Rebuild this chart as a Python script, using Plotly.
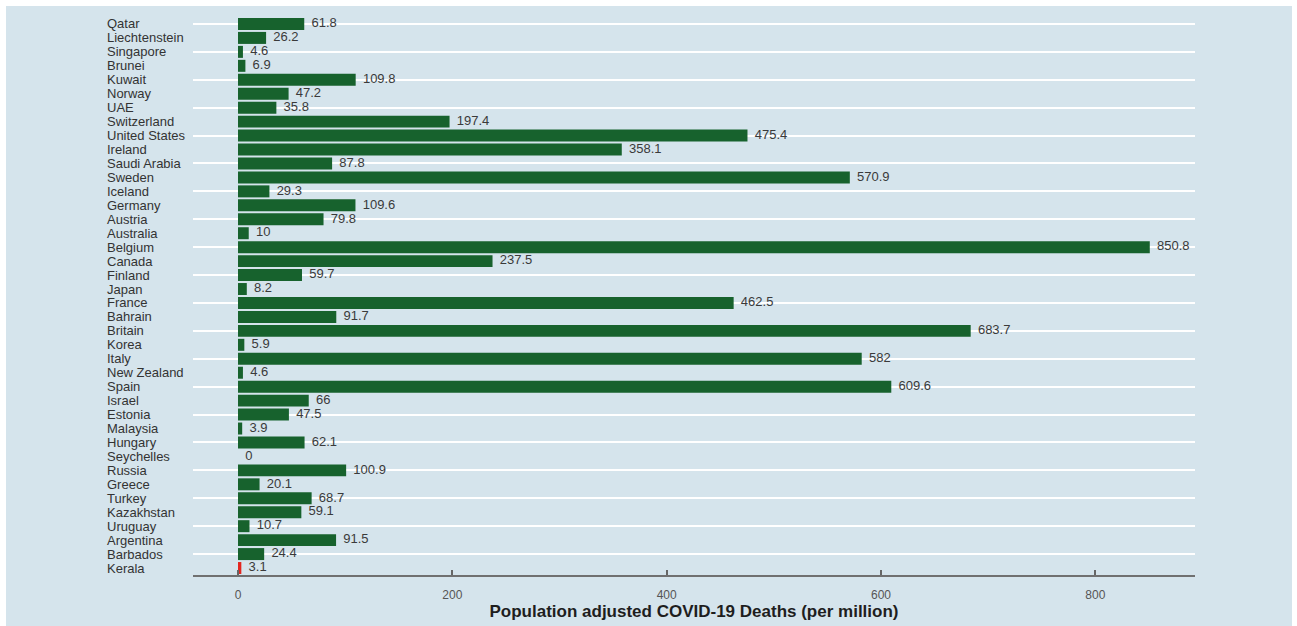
import plotly.graph_objects as go

countries = ["Qatar", "Liechtenstein", "Singapore", "Brunei", "Kuwait", "Norway", "UAE",
             "Switzerland", "United States", "Ireland", "Saudi Arabia", "Sweden", "Iceland",
             "Germany", "Austria", "Australia", "Belgium", "Canada", "Finland", "Japan",
             "France", "Bahrain", "Britain", "Korea", "Italy", "New Zealand", "Spain",
             "Israel", "Estonia", "Malaysia", "Hungary", "Seychelles", "Russia", "Greece",
             "Turkey", "Kazakhstan", "Uruguay", "Argentina", "Barbados", "Kerala"]
deaths = [61.8, 26.2, 4.6, 6.9, 109.8, 47.2, 35.8,
          197.4, 475.4, 358.1, 87.8, 570.9, 29.3,
          109.6, 79.8, 10, 850.8, 237.5, 59.7, 8.2,
          462.5, 91.7, 683.7, 5.9, 582, 4.6, 609.6,
          66, 47.5, 3.9, 62.1, 0, 100.9, 20.1,
          68.7, 59.1, 10.7, 91.5, 24.4, 3.1]
highlight = "Kerala"
x_ticks = [0, 200, 400, 600, 800]
x_title = "Population adjusted COVID-19 Deaths (per million)"

W, H = 1297, 626
L, R, T, B = 193, 1195, 17, 580
BG = "#d5e4ec"
GREEN = "#17622d"
RED = "#e3261f"
FONT = "Liberation Sans, Arial, sans-serif"

colors = [RED if c == highlight else GREEN for c in countries]

fig = go.Figure()
fig.add_trace(go.Bar(
    x=deaths, y=countries, orientation="h",
    marker=dict(color=colors, line=dict(width=0)),
    width=0.86, hoverinfo="x+y", showlegend=False,
))
fig.add_trace(go.Scatter(
    x=deaths, y=countries, mode="text",
    text=["  " + f"{v:g}" for v in deaths],
    textposition="middle right",
    textfont=dict(family=FONT, size=13, color="#3a3a3a"),
    showlegend=False, hoverinfo="skip", cliponaxis=False,
))

pw = R - L
ph = B - T
def px_x(p):
    return (p - L) / pw
def px_y(p):
    return (B - p) / ph

annotations = [
    dict(x=px_x(105), xref="paper", y=c, yref="y", text=c, showarrow=False,
         xanchor="left", yanchor="middle",
         font=dict(family=FONT, size=13, color="#333333"))
    for c in countries
]

fig.update_layout(
    width=W, height=H,
    margin=dict(l=L, r=W - R, t=T, b=H - B, pad=0),
    paper_bgcolor="white",
    plot_bgcolor="rgba(0,0,0,0)",
    bargap=0.14,
    font=dict(family=FONT, color="#555555"),
    shapes=[dict(type="rect", xref="paper", yref="paper", layer="below",
                 x0=px_x(6), x1=px_x(1292), y0=px_y(640), y1=px_y(6),
                 fillcolor=BG, line=dict(width=0))],
    annotations=annotations,
    xaxis=dict(range=[-42, 893], tickvals=x_ticks, ticks="inside", ticklen=5,
               tickcolor="#666666", tickwidth=1.5, showline=True, linecolor="#707070",
               linewidth=2, showgrid=False, zeroline=False,
               tickfont=dict(family=FONT, size=12, color="#555555"),
               ticklabelstandoff=8,
               title=dict(text=x_title, standoff=0,
                          font=dict(family=FONT, size=17, color="#1e1e1e", weight="bold"))),
    yaxis=dict(type="category", categoryorder="array", categoryarray=countries,
               range=[len(countries) - 0.5, -0.5], showticklabels=False,
               showgrid=True, gridcolor="white", gridwidth=2, zeroline=False,
               showline=False, ticks=""),
)

fig.write_html("out.html",
               config={"displayModeBar": False},
               post_script="document.body.style.margin='0';document.body.style.overflow='hidden';")
